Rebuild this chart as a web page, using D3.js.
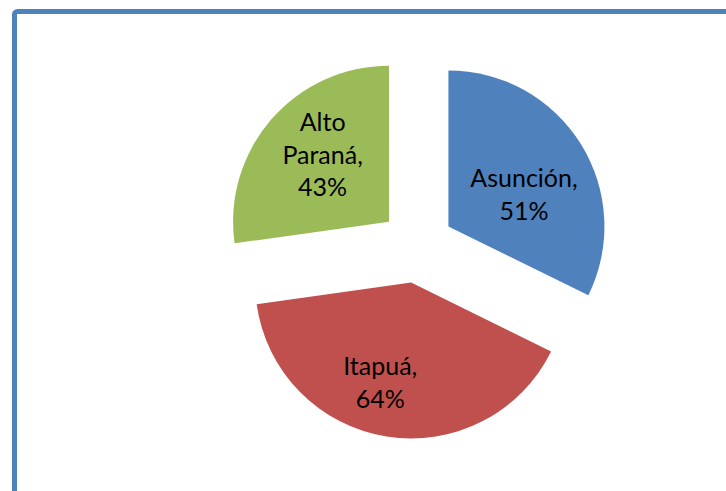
<!DOCTYPE html>
<html>
<head>
<meta charset="utf-8">
<script src="https://cdn.jsdelivr.net/npm/d3@7"></script>
<style>
  body { margin: 0; background: #fff; }
  svg { display: block; }
</style>
</head>
<body>
<svg id="drawing_region"></svg>
<script>
const labels = ['Asunción', 'Itapuá', 'Alto Paraná'];
const values = [51, 64, 43];
const colors = ['#4F81BD', '#C0504D', '#9BBB59'];

const data = labels.map((l, i) => ({ label: l, value: values[i], color: colors[i] }));

const config = {
    width: 726,
    height: 491,
    cx: 417,
    cy: 246,
    radius: 156,
    explode: 37,
    // label placement (distance from slice tip, extra turn in degrees), like excel's best fit
    label_r: [82, 105, 94],
    label_turn: [9, 8, 4],
    font_size: 25,
    line_height: 32.5
};

const svg = d3.select('#drawing_region')
    .attr('width', config.width)
    .attr('height', config.height);

// chart frame
svg.append('rect')
    .attr('x', 14.5)
    .attr('y', 11.5)
    .attr('width', 800)
    .attr('height', 600)
    .attr('rx', 3)
    .attr('fill', 'none')
    .attr('stroke', '#4F81BD')
    .attr('stroke-width', 5);

const pie = d3.pie()
    .sort(null)
    .value(d => d.value);

const arc = d3.arc()
    .innerRadius(0)
    .outerRadius(config.radius);

const chart = svg.append('g')
    .attr('transform', `translate(${config.cx}, ${config.cy})`);

const slices = chart.selectAll('g.slice')
    .data(pie(data))
    .enter()
    .append('g')
    .attr('class', 'slice')
    .attr('transform', d => {
        const a = (d.startAngle + d.endAngle) / 2;
        return `translate(${Math.sin(a) * config.explode}, ${-Math.cos(a) * config.explode})`;
    });

slices.append('path')
    .attr('d', arc)
    .attr('fill', d => d.data.color);

const text = slices.append('text')
    .attr('transform', (d, i) => {
        const a = (d.startAngle + d.endAngle) / 2 + config.label_turn[i] * Math.PI / 180;
        const r = config.label_r[i];
        return `translate(${Math.sin(a) * r}, ${-Math.cos(a) * r})`;
    })
    .attr('text-anchor', 'middle')
    .attr('font-family', 'Lato, sans-serif')
    .attr('font-size', config.font_size)
    .attr('fill', '#000');

text.each(function (d) {
    const words = d.data.label.split(' ');
    const lines = words.slice(0, -1).concat([words[words.length - 1] + ',', d.data.value + '%']);
    const t = d3.select(this);
    const n = lines.length;
    lines.forEach((line, i) => {
        t.append('tspan')
            .attr('x', 0)
            .attr('y', (i - (n - 1) / 2) * config.line_height)
            .attr('dy', '0.35em')
            .text(line);
    });
});
</script>
</body>
</html>
